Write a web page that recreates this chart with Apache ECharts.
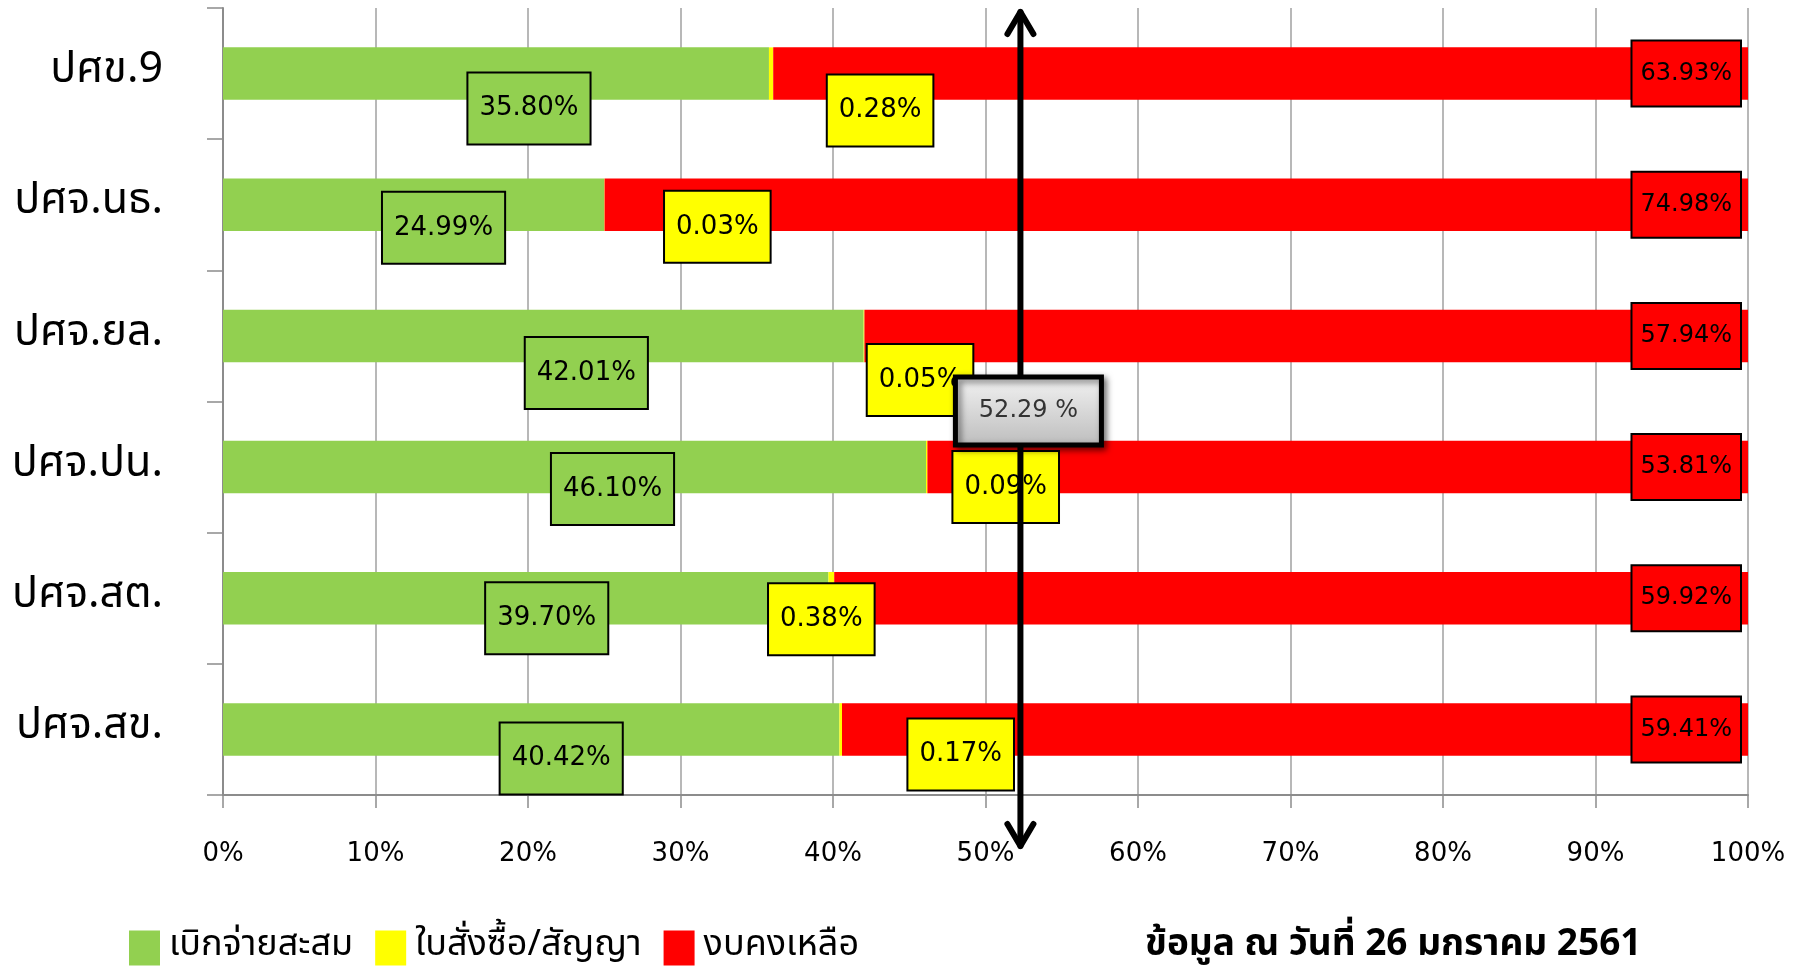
<!DOCTYPE html>
<html>
<head>
<meta charset="utf-8">
<title>เบิกจ่ายสะสม</title>
<script src="https://cdn.jsdelivr.net/npm/echarts@6/dist/echarts.min.js"></script>
<style>
  html, body { margin: 0; padding: 0; background: #fff; }
  #chart { width: 1804px; height: 967px; }
</style>
</head>
<body>
<div id="chart"></div>
<script>
  // หน่วยงาน (บนลงล่าง)
  var units = ['ปศข.9', 'ปศจ.นธ.', 'ปศจ.ยล.', 'ปศจ.ปน.', 'ปศจ.สต.', 'ปศจ.สข.']
  var spent = [35.80, 24.99, 42.01, 46.10, 39.70, 40.42]
  var ordered = [0.28, 0.03, 0.05, 0.09, 0.38, 0.17]
  var remaining = [63.93, 74.98, 57.94, 53.81, 59.92, 59.41]
  var average = 52.29
  var seriesNames = ['เบิกจ่ายสะสม', 'ใบสั่งซื้อ/สัญญา', 'งบคงเหลือ']
  var noteText = 'ข้อมูล ณ วันที่ 26 มกราคม 2561'

  // label box offsets (px), moved by hand in the original
  var spentLabelOffset = [[33, 35], [30, 23], [43, 37], [38, 22], [21, 20], [30, 29]]
  var orderedLabelOffset = [[109, 37], [113, 22], [56, 44], [79, 20], [-10, 21], [120, 25]]

  var thaiFont = '"Noto Sans Thai", "Noto Sans Thai UI", Tahoma, "DejaVu Sans", sans-serif'
  var numFont = '"DejaVu Sans", Tahoma, sans-serif'

  function pct(p) {
    return p.value.toFixed(2) + '%'
  }

  function withOffsets(values, offsets) {
    return values.map(function (v, i) {
      return { value: v, label: { offset: offsets[i] } }
    })
  }

  var chart = echarts.init(document.getElementById('chart'), null, { renderer: 'canvas' })

  chart.setOption({
    backgroundColor: '#fff',
    animation: false,
    title: {
      text: noteText,
      left: 1140,
      top: 924,
      textStyle: { fontFamily: thaiFont, fontSize: 37, fontWeight: 'bold', color: '#000' },
    },
    legend: {
      data: seriesNames,
      left: 124,
      top: 925,
      icon: 'rect',
      itemWidth: 31,
      itemHeight: 35,
      itemGap: 22,
      textStyle: { fontFamily: thaiFont, fontSize: 36, color: '#000', padding: [0, 0, 0, 4] },
    },
    grid: { left: 223, right: 56, top: 8, bottom: 172 },
    xAxis: {
      type: 'value',
      min: 0,
      max: 100,
      interval: 10,
      axisLine: { show: true, lineStyle: { color: '#8c8c8c', width: 2 } },
      axisTick: { show: true, length: 13, lineStyle: { color: '#8c8c8c', width: 1.5 } },
      axisLabel: {
        formatter: '{value}%',
        margin: 46,
        fontFamily: numFont,
        fontSize: 26,
        color: '#000',
      },
      splitLine: { show: true, lineStyle: { color: '#a0a0a0', width: 1.5 } },
    },
    yAxis: {
      type: 'category',
      data: units,
      inverse: true,
      axisLine: { show: true, lineStyle: { color: '#8c8c8c', width: 2 } },
      axisTick: { show: true, length: 16, lineStyle: { color: '#8c8c8c', width: 1.5 } },
      axisLabel: { margin: 60, fontFamily: thaiFont, fontSize: 43, color: '#000' },
    },
    series: [
      {
        name: seriesNames[0],
        type: 'bar',
        stack: 'total',
        barCategoryGap: '60%',
        itemStyle: { color: '#92D050' },
        data: withOffsets(spent, spentLabelOffset),
        label: {
          show: true,
          position: 'inside',
          formatter: pct,
          fontFamily: numFont,
          fontSize: 26,
          lineHeight: 30,
          color: '#000',
          backgroundColor: '#92D050',
          borderColor: '#000',
          borderWidth: 2,
          padding: [20, 11],
        },
      },
      {
        name: seriesNames[1],
        type: 'bar',
        stack: 'total',
        itemStyle: { color: '#FFFF00' },
        data: withOffsets(ordered, orderedLabelOffset),
        label: {
          show: true,
          position: 'inside',
          formatter: pct,
          fontFamily: numFont,
          fontSize: 26,
          lineHeight: 30,
          color: '#000',
          backgroundColor: '#FFFF00',
          borderColor: '#000',
          borderWidth: 2,
          padding: [20, 11],
        },
      },
      {
        name: seriesNames[2],
        type: 'bar',
        stack: 'total',
        itemStyle: { color: '#FF0000' },
        data: remaining,
        label: {
          show: true,
          position: 'insideRight',
          distance: 8,
          formatter: pct,
          fontFamily: numFont,
          fontSize: 24,
          lineHeight: 28,
          color: '#000',
          backgroundColor: '#FF0000',
          borderColor: '#000',
          borderWidth: 2,
          padding: [18, 8],
        },
      },
      {
        // ลูกศรค่าเฉลี่ย
        name: 'average',
        type: 'custom',
        clip: false,
        z: 10,
        data: [[average, 0]],
        encode: { x: 0, y: 1 },
        renderItem: function (params, api) {
          var x = api.coord([api.value(0), 0])[0]
          var cs = params.coordSys
          var top = cs.y + 4
          var bottom = cs.y + cs.height + 51
          var head = 22
          var half = 13
          var boxW = 146
          var boxH = 68
          var boxCy = cs.y + 403
          var line = { stroke: '#000', lineWidth: 6, fill: null, lineCap: 'round', lineJoin: 'round' }
          return {
            type: 'group',
            children: [
              { type: 'line', shape: { x1: x, y1: top, x2: x, y2: bottom }, style: line },
              {
                type: 'polyline',
                shape: { points: [[x - half, top + head], [x, top], [x + half, top + head]] },
                style: line,
              },
              {
                type: 'polyline',
                shape: { points: [[x - half, bottom - head], [x, bottom], [x + half, bottom - head]] },
                style: line,
              },
              {
                type: 'rect',
                shape: { x: x - 65, y: boxCy - boxH / 2, width: boxW, height: boxH },
                style: {
                  fill: new echarts.graphic.LinearGradient(0, 0, 0, 1, [
                    { offset: 0, color: '#f4f4f4' },
                    { offset: 1, color: '#bcbcbc' },
                  ]),
                  stroke: '#000',
                  lineWidth: 5,
                  shadowBlur: 6,
                  shadowOffsetX: 3,
                  shadowOffsetY: 3,
                  shadowColor: 'rgba(0,0,0,0.5)',
                },
              },
              {
                type: 'text',
                style: {
                  text: api.value(0).toFixed(2) + ' %',
                  x: x - 65 + boxW / 2,
                  y: boxCy,
                  align: 'center',
                  verticalAlign: 'middle',
                  fontFamily: numFont,
                  fontSize: 24,
                  fill: '#333',
                },
              },
            ],
          }
        },
      },
    ],
  })
</script>
</body>
</html>
